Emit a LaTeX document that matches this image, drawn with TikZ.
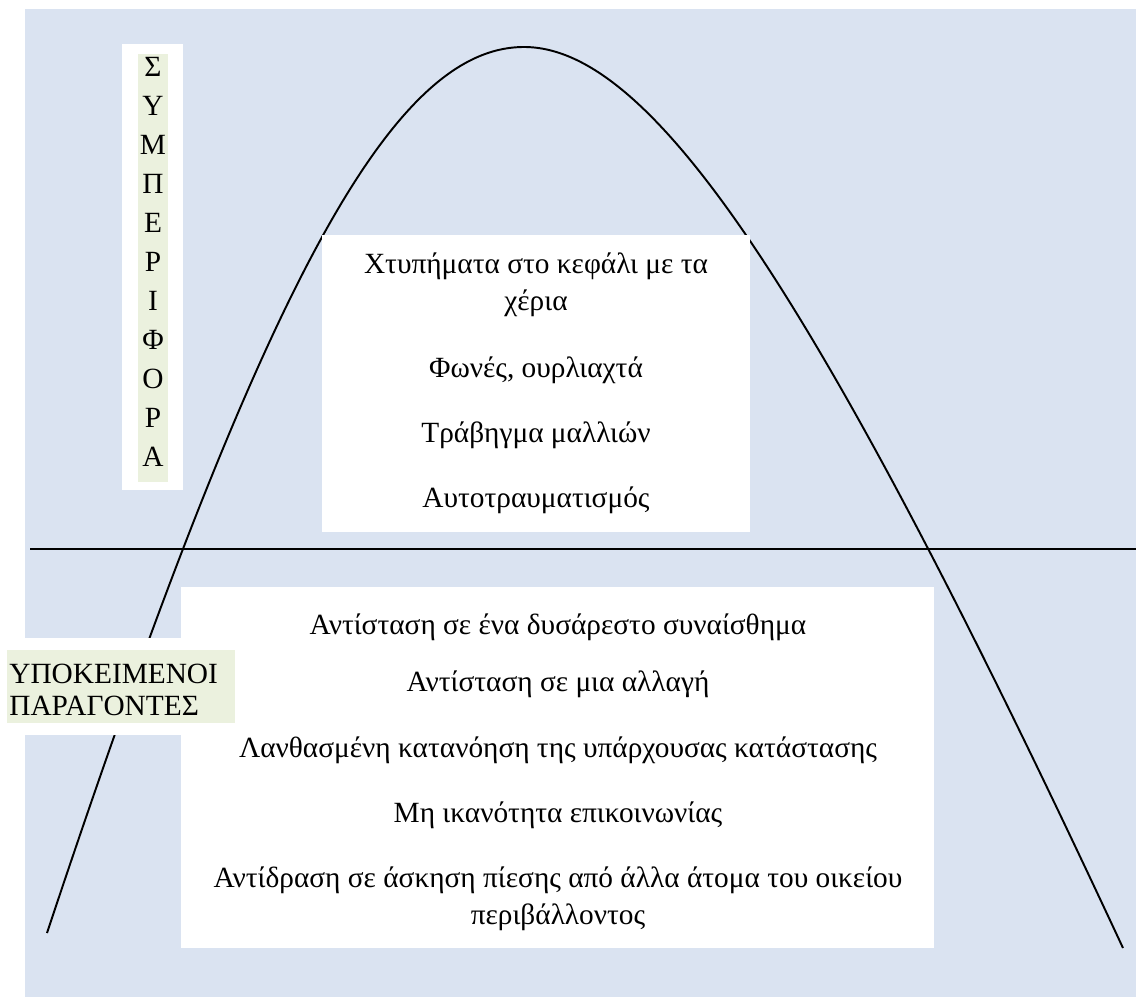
\documentclass[tikz,border=0pt]{standalone}
\usepackage{fontspec}
\setmainfont{Liberation Serif}
\definecolor{bgblue}{HTML}{DAE3F1}
\definecolor{lblgreen}{HTML}{EBF1DE}

\begin{document}
\begin{tikzpicture}[x=0.02cm, y=-0.02cm,
	txt/.style={inner sep=0pt, anchor=base, font=\fontsize{16.7}{21}\selectfont},
	letter/.style={inner sep=0pt, font=\fontsize{16.7}{21}\selectfont},
	curve/.style={line width=1.1pt, line join=round}]
	\useasboundingbox (0,0) rectangle (1136,997);
	\fill[bgblue] (25,9) rectangle (1136,997);
	% the bell curve and the baseline
	\coordinate (lend) at (47,933);
	\coordinate (peak) at (524,47);
	\coordinate (rend) at (1123,948);
	\draw[curve] (lend) .. controls (263,283) and (392,47) .. (peak)
		.. controls (654,47) and (820,298) .. (rend);
	\coordinate (gl) at (30,549);
	\coordinate (gr) at (1136,549);
	\draw[line width=1.1pt] (gl) -- (gr);
	% white panels
	\fill[white] (322,235) rectangle (750,532);
	\fill[white] (181,587) rectangle (934,948);
	\fill[white] (122,44) rectangle (183,490);
	\fill[lblgreen] (138,54) rectangle (168,482);
	\fill[white] (0,638) rectangle (245,735);
	\fill[lblgreen] (7,650) rectangle (235,723);
	% behaviour
	\foreach \l [count=\i] in {Σ,Υ,Μ,Π,Ε,Ρ,Ι,Φ,Ο,Ρ,Α}
		\node[letter] (v\i) at (153,{67+(\i-1)*39}) {\l};
	\node[txt] (t1) at (536,273) {Χτυπήματα στο κεφάλι με τα};
	\node[txt] (t2) at (536,310) {χέρια};
	\node[txt] (t3) at (536,377) {Φωνές, ουρλιαχτά};
	\node[txt] (t4) at (536,442) {Τράβηγμα μαλλιών};
	\node[txt] (t5) at (536,507) {Αυτοτραυματισμός};
	% underlying factors
	\node[txt, anchor=base west] (u1) at (9,683) {ΥΠΟΚΕΙΜΕΝΟΙ};
	\node[txt, anchor=base west] (u2) at (9,715) {ΠΑΡΑΓΟΝΤΕΣ};
	\node[txt] (b1) at (558,634) {Αντίσταση σε ένα δυσάρεστο συναίσθημα};
	\node[txt] (b2) at (558,691) {Αντίσταση σε μια αλλαγή};
	\node[txt] (b3) at (558,757) {Λανθασμένη κατανόηση της υπάρχουσας κατάστασης};
	\node[txt] (b4) at (558,822) {Μη ικανότητα επικοινωνίας};
	\node[txt] (b5) at (558,887) {Αντίδραση σε άσκηση πίεσης από άλλα άτομα του οικείου};
	\node[txt] (b6) at (558,924) {περιβάλλοντος};
\end{tikzpicture}
\end{document}
